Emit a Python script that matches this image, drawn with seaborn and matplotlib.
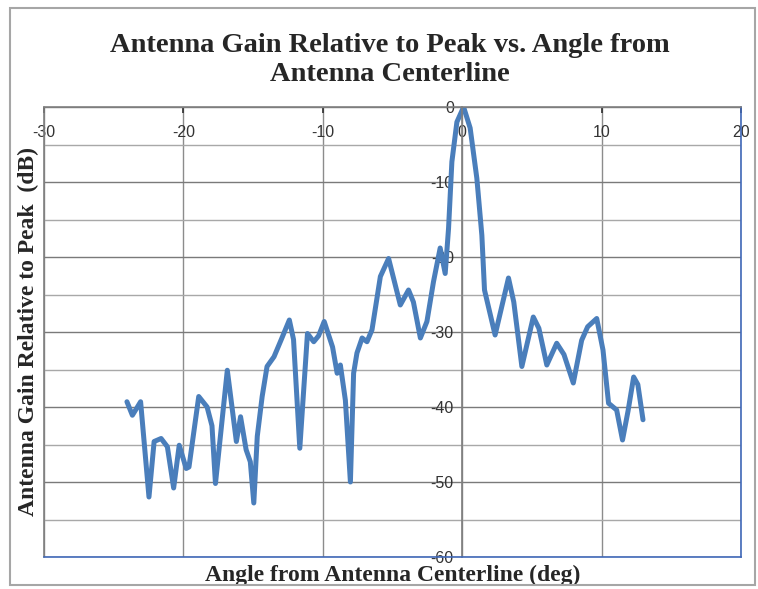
"""
Antenna gain relative to peak vs. angle from antenna centerline,
Excel-style line chart redrawn with seaborn.
"""

import numpy as np
import pandas as pd
import matplotlib
matplotlib.use('Agg')
import matplotlib.pyplot as plt
from matplotlib.patches import Rectangle
from matplotlib.ticker import MultipleLocator
import seaborn as sns

# data
ANGLE_DEG = [-24.05, -23.66, -23.07, -22.47, -22.1, -21.6, -21.15, -20.7, -20.3,
             -19.8, -19.6, -18.9, -18.3, -17.95, -17.7, -16.85, -16.2, -15.9,
             -15.5, -15.2, -14.95, -14.7, -14.35, -14.0, -13.5, -13.0, -12.4,
             -12.1, -11.65, -11.1, -10.65, -10.3, -9.9, -9.3, -8.97, -8.74,
             -8.38, -8.02, -7.79, -7.55, -7.18, -6.83, -6.47, -5.87, -5.28,
             -4.44, -3.85, -3.5, -3.0, -2.53, -2.06, -1.58, -1.22, -0.98,
             -0.74, -0.38, 0.1, 0.57, 1.05, 1.41, 1.6, 2.36, 3.32, 3.7, 4.28,
             5.1, 5.5, 6.07, 6.78, 7.3, 7.97, 8.57, 9.0, 9.65, 10.1, 10.5,
             11.08, 11.5, 11.9, 12.3, 12.6, 12.97]
GAIN_DB = [-39.3, -41.1, -39.3, -52.0, -44.6, -44.2, -45.3, -50.8, -45.1,
           -48.2, -48.0, -38.6, -40.0, -42.5, -50.2, -35.1, -44.6, -41.3,
           -45.7, -47.3, -52.8, -43.9, -38.6, -34.6, -33.3, -31.1, -28.4,
           -31.0, -45.5, -30.2, -31.3, -30.5, -28.6, -32.0, -35.5, -34.4,
           -39.1, -50.0, -35.5, -32.8, -30.8, -31.3, -29.7, -22.6, -20.2,
           -26.4, -24.4, -26.0, -30.8, -28.6, -23.3, -18.8, -22.2, -16.2,
           -7.3, -2.0, 0.0, -2.8, -9.5, -17.1, -24.4, -30.4, -22.8, -26.0,
           -34.6, -28.0, -29.5, -34.4, -31.5, -33.0, -36.8, -31.1, -29.3,
           -28.2, -32.4, -39.5, -40.4, -44.4, -40.5, -36.0, -37.0, -41.7]

X_TICKS = [-30, -20, -10, 0, 10, 20]
Y_TICKS = [0, -10, -20, -30, -40, -50, -60]
BLUE_GRID = [-10, -20, -50]

LINE_COLOR = '#4a7ebb'
GRID_BLUE = '#5b8ad0'
GRID_GRAY = '#8c8c8c'
BORDER_BLUE = '#4068b8'

W, H = 758, 589


def main():
    sns.set_theme(style='white')
    plt.rcParams['font.family'] = ['Liberation Sans', 'DejaVu Sans']
    plt.rcParams['axes.unicode_minus'] = False

    df = pd.DataFrame({'angle': ANGLE_DEG, 'gain': GAIN_DB})

    fig = plt.figure(figsize=(W / 100, H / 100), dpi=100)
    ax = fig.add_axes([44 / W, 1 - 557 / H, 697 / W, 450 / H])

    # grid first so the curve sits on top
    ax.set_xlim(-30, 20)
    ax.set_ylim(-60, 0)
    ax.xaxis.set_major_locator(MultipleLocator(10))
    ax.yaxis.set_major_locator(MultipleLocator(10))
    ax.yaxis.set_minor_locator(MultipleLocator(5))
    ax.grid(which='major', axis='x', color=GRID_GRAY, lw=1.0)
    ax.grid(which='major', axis='y', color='#7a7a7a', lw=1.0)
    ax.grid(which='minor', axis='y', color='#a8a8a8', lw=1.0)
    ax.set_axisbelow(True)

    sns.lineplot(data=df, x='angle', y='gain', ax=ax, color=LINE_COLOR,
                 lw=3.6, estimator=None, sort=False, legend=False,
                 solid_joinstyle='round', solid_capstyle='round')

    # recolour some major gridlines (blue in the original)
    for val, tick in zip(ax.get_yticks(), ax.yaxis.get_major_ticks()):
        if round(val) in BLUE_GRID:
            tick.gridline.set_color(GRID_BLUE)

    # axes: x axis along the top (y=0), y axis through x=0
    ax.set_xticks(X_TICKS)
    ax.set_yticks(Y_TICKS)
    ax.xaxis.set_ticks_position('top')
    ax.tick_params(axis='x', which='major', direction='in', length=4,
                   pad=-13, labelsize=11.5, colors='#333333')
    ax.tick_params(axis='y', which='major', direction='inout', length=6,
                   pad=3, labelsize=11.5, colors='#333333')
    ax.tick_params(axis='y', which='minor', length=0)
    ax.spines['left'].set_position(('data', 0))
    ax.spines['left'].set_color('#7f7f7f')
    ax.spines['top'].set_color('#7f7f7f')
    ax.spines['bottom'].set_color(BORDER_BLUE)
    ax.spines['right'].set_color(BORDER_BLUE)
    for s in ax.spines.values():
        s.set_linewidth(1.2)
    ax.axvline(-30, color='#7f7f7f', lw=1.2, clip_on=False)
    for lab in ax.get_xticklabels():
        lab.set_verticalalignment('top')

    # labels
    serif = ['Liberation Serif', 'DejaVu Serif']
    ax.set_xlabel('Angle from Antenna Centerline (deg)', family=serif,
                  weight='bold', fontsize=17, va='center')
    ax.xaxis.set_label_coords(0.5, -0.04)
    ax.set_ylabel('Antenna Gain Relative to Peak  (dB)', family=serif,
                  weight='bold', fontsize=17, va='center')
    ax.yaxis.set_label_coords(-0.023, 0.5)
    fig.text(0.515, 1 - 60 / H,
             'Antenna Gain Relative to Peak vs. Angle from\nAntenna Centerline',
             ha='center', va='center', family=serif, weight='bold',
             fontsize=20.5, linespacing=1.2)

    # chart-area frame
    fig.patches.append(Rectangle((10 / W, 1 - 585 / H), 745 / W, 577 / H,
                                 transform=fig.transFigure, fill=False,
                                 ec='#a6a6a6', lw=1.5))

    fig.savefig('out.png', dpi=100)
    plt.close('all')


if __name__ == '__main__':
    main()
